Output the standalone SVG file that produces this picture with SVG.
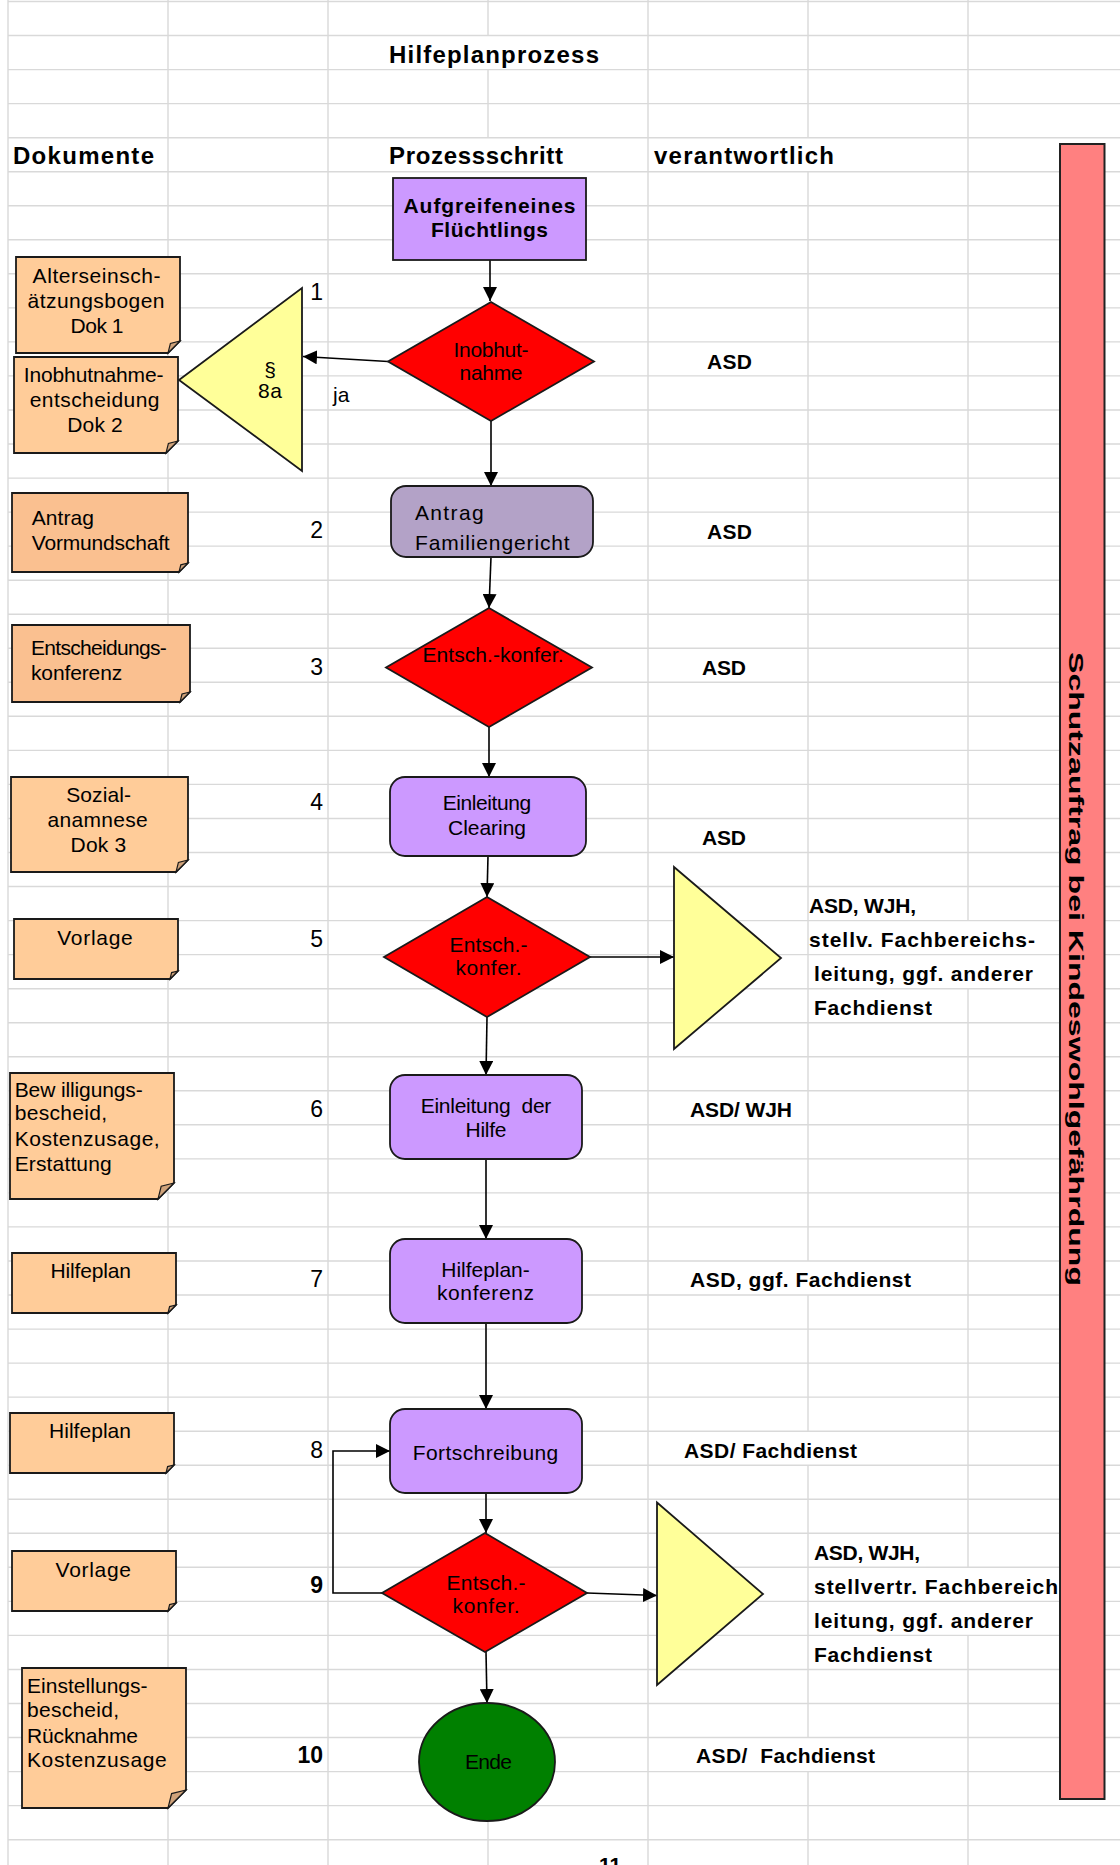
<svg xmlns="http://www.w3.org/2000/svg" width="1120" height="1865" viewBox="0 0 1120 1865">
<style>
.grid{stroke:#d9d9d9;stroke-width:1.4;fill:none}
.doc{fill:#ffcc99;stroke:#1a1a1a;stroke-width:1.8}
.doc2{fill:#fac090;stroke:#1a1a1a;stroke-width:1.8}
.fold{fill:#cfa27a;stroke:#1a1a1a;stroke-width:1.2}
.proc{fill:#cc99ff;stroke:#1a1a1a;stroke-width:1.8}
.proc2{fill:#b3a2c7;stroke:#1a1a1a;stroke-width:1.8}
.dec{fill:#ff0000;stroke:#1a1a1a;stroke-width:1.8}
.tri{fill:#ffff99;stroke:#1a1a1a;stroke-width:1.8}
.end{fill:#008000;stroke:#1a1a1a;stroke-width:1.8}
.bar{fill:#ff8080;stroke:#222;stroke-width:2}
.t{font-family:"Liberation Sans",Arial,sans-serif;font-size:21px;fill:#000}
.b{font-weight:bold}
.c{text-anchor:middle}
.e{text-anchor:end}
.h{font-size:24px;font-weight:bold}
.n{font-size:23px}
.conn{stroke:#000;stroke-width:1.6;fill:none;marker-end:url(#ah)}
</style>
<defs>
<marker id="ah" markerUnits="userSpaceOnUse" markerWidth="14" markerHeight="14" refX="14" refY="7" orient="auto">
<path d="M0,0 L14,7 L0,14 z" fill="#000"/>
</marker>
</defs>
<rect width="1120" height="1865" fill="#fff"/>
<g id="grid" class="grid">
<path d="M8 1.5H1120M8 35.5H1120M8 69.6H1120M8 103.6H1120M8 137.7H1120M8 171.7H1120M8 205.7H1120M8 239.8H1120M8 273.8H1120M8 307.9H1120M8 341.9H1120M8 375.9H1120M8 410H1120M8 444H1120M8 478.1H1120M8 512.1H1120M8 546.1H1120M8 580.2H1120M8 614.2H1120M8 648.3H1120M8 682.3H1120M8 716.3H1120M8 750.4H1120M8 784.4H1120M8 818.5H1120M8 852.5H1120M8 886.5H1120M8 920.6H1120M8 954.6H1120M8 988.7H1120M8 1022.7H1120M8 1056.7H1120M8 1090.8H1120M8 1124.8H1120M8 1158.9H1120M8 1192.9H1120M8 1226.9H1120M8 1261H1120M8 1295H1120M8 1329.1H1120M8 1363.1H1120M8 1397.1H1120M8 1431.2H1120M8 1465.2H1120M8 1499.3H1120M8 1533.3H1120M8 1567.3H1120M8 1601.4H1120M8 1635.4H1120M8 1669.5H1120M8 1703.5H1120M8 1737.5H1120M8 1771.6H1120M8 1805.6H1120M8 1839.7H1120"/>
<path d="M8 0V1865M168 0V1865M328 0V1865M648 0V1865M488 0V35.5M488 69.6V137.7M488 1821V1865M808 0V137.7M808 171.7V1261M808 1295V1431.2M808 1465.2V1737.5M808 1771.6V1865M968 0V920.6M968 988.7V1567.3M968 1635.4V1865"/>
</g>
<g id="headers">
<text class="t h" x="389" y="63" textLength="210">Hilfeplanprozess</text>
<text class="t h" x="13" y="164" textLength="141">Dokumente</text>
<text class="t h" x="389" y="164" textLength="174">Prozessschritt</text>
<text class="t h" x="654" y="164" textLength="180">verantwortlich</text>
</g>
<g id="connectors">
<path class="conn" d="M490 260V301"/>
<path class="conn" d="M388 361.5L303 356.5"/>
<path class="conn" d="M491 421V486"/>
<path class="conn" d="M491 557L489 608"/>
<path class="conn" d="M489 727V777"/>
<path class="conn" d="M488 856L487 897"/>
<path class="conn" d="M590 957H674"/>
<path class="conn" d="M487 1017L486 1075"/>
<path class="conn" d="M486 1159V1239"/>
<path class="conn" d="M486 1323V1409"/>
<path class="conn" d="M486 1493V1533"/>
<path class="conn" d="M382 1593H333V1451H390"/>
<path class="conn" d="M587 1593L657 1595.5"/>
<path class="conn" d="M486 1652L487 1703"/>
</g>
<g id="n-aufgreifen">
<rect class="proc" x="393" y="178" width="193" height="82"/>
<text class="t b c" x="489.5" y="213" font-size="20" textLength="172">Aufgreifeneines</text>
<text class="t b c" x="489.5" y="237" font-size="20" textLength="117">Flüchtlings</text>
</g>
<g id="n-inobhut">
<polygon class="dec" points="491,302 594,361.5 491,421 388,361.5"/>
<text class="t c" x="491" y="357" textLength="75">Inobhut-</text>
<text class="t c" x="491" y="380" textLength="63">nahme</text>
</g>
<g id="n-8a">
<polygon class="tri" points="179,380 302,288 302,471"/>
<text class="t c" x="270" y="377">§</text>
<text class="t c" x="270" y="398" textLength="24">8a</text>
</g>
<g id="n-antrag-fg">
<rect class="proc2" x="391" y="486" width="202" height="71" rx="15"/>
<text class="t" x="415" y="520" textLength="68.6">Antrag</text>
<text class="t" x="415" y="550" textLength="154.7">Familiengericht</text>
</g>
<g id="n-entsch3">
<polygon class="dec" points="489,608 592,667.5 489,727 386,667.5"/>
<text class="t c" x="493" y="662" textLength="141">Entsch.-konfer.</text>
</g>
<g id="n-clearing">
<rect class="proc" x="390" y="777" width="196" height="79" rx="15"/>
<text class="t c" x="487" y="810" textLength="88.5">Einleitung</text>
<text class="t c" x="487" y="835" textLength="78">Clearing</text>
</g>
<g id="n-entsch5">
<polygon class="dec" points="487,897 590,957 487,1017 384,957"/>
<text class="t c" x="488.5" y="952" textLength="78">Entsch.-</text>
<text class="t c" x="488.5" y="975" textLength="66">konfer.</text>
</g>
<g id="n-tri5">
<polygon class="tri" points="674,867 781,958 674,1049"/>
</g>
<g id="n-hilfe">
<rect class="proc" x="390" y="1075" width="192" height="84" rx="15"/>
<text class="t c" x="486" y="1113" textLength="130.6" xml:space="preserve">Einleitung  der</text>
<text class="t c" x="486" y="1137" textLength="41">Hilfe</text>
</g>
<g id="n-hpk">
<rect class="proc" x="390" y="1239" width="192" height="84" rx="15"/>
<text class="t c" x="485.5" y="1277" textLength="88.5">Hilfeplan-</text>
<text class="t c" x="485.5" y="1300" textLength="97">konferenz</text>
</g>
<g id="n-fort">
<rect class="proc" x="390" y="1409" width="192" height="84" rx="15"/>
<text class="t c" x="485.5" y="1460" textLength="145.6">Fortschreibung</text>
</g>
<g id="n-entsch9">
<polygon class="dec" points="485,1533 587,1593 485,1652 382,1593"/>
<text class="t c" x="486" y="1590" textLength="79">Entsch.-</text>
<text class="t c" x="486" y="1613" textLength="67">konfer.</text>
</g>
<g id="n-tri9">
<polygon class="tri" points="657,1502.5 763,1594 657,1685"/>
</g>
<g id="n-ende">
<ellipse class="end" cx="487" cy="1762" rx="68" ry="59"/>
<text class="t c" x="488.5" y="1769" textLength="47">Ende</text>
</g>
<g id="numbers">
<text class="t n e" x="323" y="300">1</text>
<text class="t" x="333" y="402" font-size="20">ja</text>
<text class="t n e" x="323" y="538">2</text>
<text class="t n e" x="323" y="675">3</text>
<text class="t n e" x="323" y="810">4</text>
<text class="t n e" x="323" y="947">5</text>
<text class="t n e" x="323" y="1117">6</text>
<text class="t n e" x="323" y="1287">7</text>
<text class="t n e" x="323" y="1458">8</text>
<text class="t n e b" x="323" y="1593">9</text>
<text class="t n e b" x="323" y="1763">10</text>
</g>
<g id="responsible">
<text class="t b" x="707" y="369" textLength="45">ASD</text>
<text class="t b" x="707" y="539" textLength="45">ASD</text>
<text class="t b" x="702" y="675" textLength="44">ASD</text>
<text class="t b" x="702" y="845" textLength="44">ASD</text>
<text class="t b" x="809" y="913" textLength="107">ASD, WJH,</text>
<text class="t b" x="809" y="947" textLength="226">stellv. Fachbereichs-</text>
<text class="t b" x="814" y="981" textLength="219">leitung, ggf. anderer</text>
<text class="t b" x="814" y="1014.5" textLength="118">Fachdienst</text>
<text class="t b" x="690" y="1117" textLength="102">ASD/ WJH</text>
<text class="t b" x="690" y="1287" textLength="221">ASD, ggf. Fachdienst</text>
<text class="t b" x="684" y="1458" textLength="173">ASD/ Fachdienst</text>
<text class="t b" x="814" y="1560" textLength="106">ASD, WJH,</text>
<text class="t b" x="814" y="1594" textLength="244">stellvertr. Fachbereich</text>
<text class="t b" x="814" y="1628" textLength="219">leitung, ggf. anderer</text>
<text class="t b" x="814" y="1662" textLength="118">Fachdienst</text>
<text class="t b" x="696" y="1763" textLength="179" xml:space="preserve">ASD/  Fachdienst</text>
</g>
<g id="d-alter">
<path class="doc" d="M16 257H180V341L168 353H16Z"/>
<path class="fold" d="M180 341L168 353L170.4 343.4Z"/>
<text class="t c" x="96.6" y="283" textLength="128">Alterseinsch-</text>
<text class="t c" x="96" y="308" textLength="137">ätzungsbogen</text>
<text class="t c" x="97" y="333" textLength="53">Dok 1</text>
</g>
<g id="d-inobhut">
<path class="doc" d="M14 357H178V441L166 453H14Z"/>
<path class="fold" d="M178 441L166 453L168.4 443.4Z"/>
<text class="t c" x="93.6" y="381.7" textLength="139.7">Inobhutnahme-</text>
<text class="t c" x="94.6" y="406.7" textLength="129.7">entscheidung</text>
<text class="t c" x="95" y="431.7" textLength="55.5">Dok 2</text>
</g>
<g id="d-vormund">
<path class="doc2" d="M12 493H188V563L179 572H12Z"/>
<path class="fold" d="M188 563L179 572L180.8 564.8Z"/>
<text class="t" x="31.7" y="525" textLength="62.3">Antrag</text>
<text class="t" x="31.7" y="550" textLength="138">Vormundschaft</text>
</g>
<g id="d-entsch">
<path class="doc2" d="M12 625H190V692L180 702H12Z"/>
<path class="fold" d="M190 692L180 702L182 694Z"/>
<text class="t" x="31" y="655" textLength="135.7">Entscheidungs-</text>
<text class="t" x="31" y="680" textLength="91.2">konferenz</text>
</g>
<g id="d-sozial">
<path class="doc" d="M11 777H188V860L176 872H11Z"/>
<path class="fold" d="M188 860L176 872L178.4 862.4Z"/>
<text class="t c" x="98.6" y="801.7" textLength="64.7">Sozial-</text>
<text class="t c" x="97.6" y="826.7" textLength="100">anamnese</text>
<text class="t c" x="98.4" y="851.7" textLength="55.6">Dok 3</text>
</g>
<g id="d-vorlage5">
<path class="doc" d="M14 919H178V971L170 979H14Z"/>
<path class="fold" d="M178 971L170 979L171.6 972.6Z"/>
<text class="t c" x="95" y="945" textLength="75.5">Vorlage</text>
</g>
<g id="d-bewilligung">
<path class="doc" d="M10 1073H174V1183L158 1199H10Z"/>
<path class="fold" d="M174 1183L158 1199L161.2 1186.2Z"/>
<text class="t" x="14.7" y="1096.7" textLength="128">Bew illigungs-</text>
<text class="t" x="14.7" y="1120" textLength="92.5">bescheid,</text>
<text class="t" x="14.7" y="1146" textLength="145">Kostenzusage,</text>
<text class="t" x="14.7" y="1170.7" textLength="97">Erstattung</text>
</g>
<g id="d-hilfeplan7">
<path class="doc" d="M12 1253H176V1305L168 1313H12Z"/>
<path class="fold" d="M176 1305L168 1313L169.6 1306.6Z"/>
<text class="t c" x="90.7" y="1278" textLength="80.6">Hilfeplan</text>
</g>
<g id="d-hilfeplan8">
<path class="doc" d="M10 1413H174V1465L166 1473H10Z"/>
<path class="fold" d="M174 1465L166 1473L167.6 1466.6Z"/>
<text class="t c" x="90" y="1438" textLength="82">Hilfeplan</text>
</g>
<g id="d-vorlage9">
<path class="doc" d="M12 1551H176V1603L168 1611H12Z"/>
<path class="fold" d="M176 1603L168 1611L169.6 1604.6Z"/>
<text class="t c" x="93.3" y="1576.7" textLength="75.4">Vorlage</text>
</g>
<g id="d-einstellung">
<path class="doc" d="M22 1668H186V1790L168 1808H22Z"/>
<path class="fold" d="M186 1790L168 1808L171.6 1793.6Z"/>
<text class="t" x="27" y="1693" textLength="120.6">Einstellungs-</text>
<text class="t" x="27" y="1716.7" textLength="92">bescheid,</text>
<text class="t" x="27" y="1743" textLength="111">Rücknahme</text>
<text class="t" x="27" y="1766.7" textLength="139.7">Kostenzusage</text>
</g>
<g id="n-schutzauftrag">
<rect class="bar" x="1060" y="144" width="44.5" height="1655"/>
<text class="t b c" font-size="36" transform="translate(1069,969) rotate(90)" textLength="634" lengthAdjust="spacingAndGlyphs">Schutzauftrag bei Kindeswohlgefährdung</text>
</g>
<text class="t b c" x="610" y="1872" font-size="22">11</text>
</svg>
